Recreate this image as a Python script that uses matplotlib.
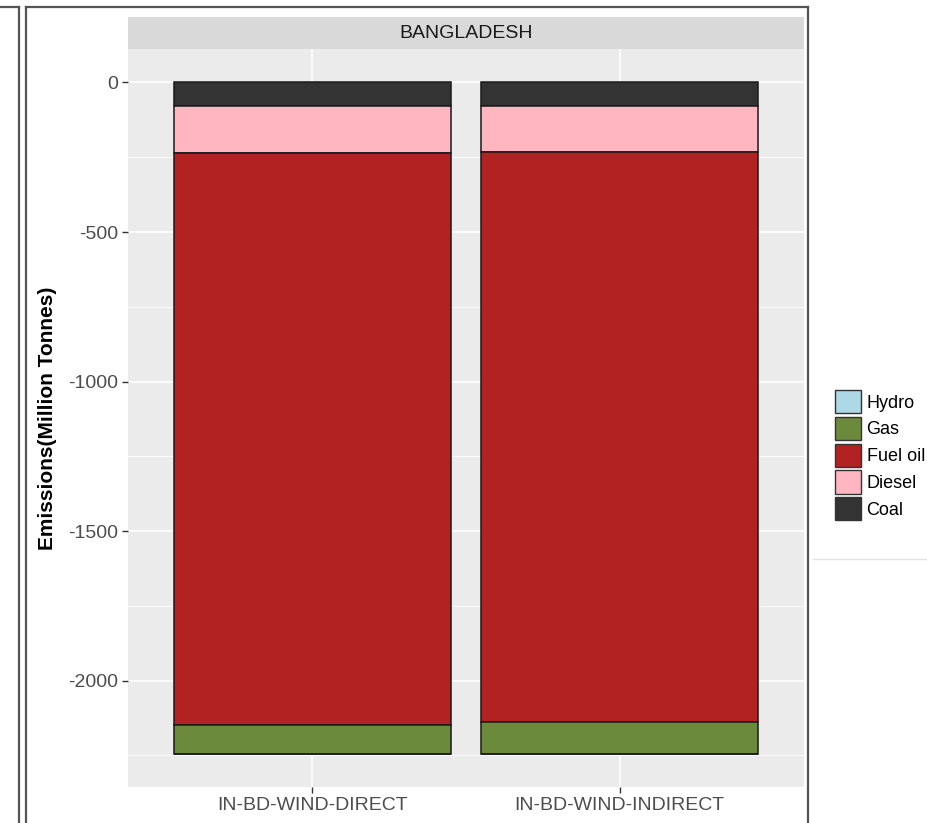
import matplotlib
matplotlib.use("Agg")
import matplotlib.pyplot as plt
from matplotlib.patches import Patch, Rectangle
from matplotlib.lines import Line2D
from matplotlib.ticker import MultipleLocator

plt.rcParams['font.family'] = ['Liberation Sans', 'DejaVu Sans']
plt.rcParams['axes.unicode_minus'] = False

# emissions by fuel for each scenario (million tonnes, negative = avoided)
scenarios = ['IN-BD-WIND-DIRECT', 'IN-BD-WIND-INDIRECT']
coal = [-77, -77]
diesel = [-160, -157]
fuel_oil = [-1913, -1906]
gas = [-94, -104]
hydro = [0, 0]

fuels = ['Coal', 'Diesel', 'Fuel oil', 'Gas', 'Hydro']
values = [coal, diesel, fuel_oil, gas, hydro]
colors = {'Hydro': '#ADD8E6', 'Gas': '#6B8A3B', 'Fuel oil': '#B22222',
          'Diesel': '#FFB6C1', 'Coal': '#333333'}

W, H = 928, 823
fig = plt.figure(figsize=(W / 100, H / 100), dpi=100)

def fx(px):
    return px / W

def fy(py):
    return 1 - py / H

ax = fig.add_axes([fx(128), fy(787), fx(804) - fx(128), fy(49) - fy(787)])
ax.set_facecolor('#EBEBEB')
for s in ax.spines.values():
    s.set_visible(False)

x = list(range(1, len(scenarios) + 1))
bottom = [0] * len(scenarios)
for name, vals in zip(fuels, values):
    ax.bar(x, vals, width=0.9, bottom=bottom, color=colors[name],
           edgecolor='#1A1A1A', linewidth=1.1, zorder=3)
    bottom = [b + v for b, v in zip(bottom, vals)]

ax.set_xlim(0.4, 2.6)
ax.set_ylim(-2356, 112)
ax.set_xticks(x)
ax.set_xticklabels(scenarios)
ax.yaxis.set_major_locator(MultipleLocator(500))
ax.yaxis.set_minor_locator(MultipleLocator(250))
ax.grid(which='major', color='white', linewidth=1.2, zorder=0)
ax.grid(which='minor', axis='y', color='white', linewidth=0.6, zorder=0)
ax.set_axisbelow(True)
ax.tick_params(axis='both', which='major', colors='#333333', length=4,
               width=1, labelsize=14, labelcolor='#4D4D4D', pad=3)
ax.tick_params(axis='y', which='minor', length=0)
ax.set_ylabel('Emissions(Million Tonnes)', fontsize=15, fontweight='bold',
              color='black', labelpad=8)

# facet strip
strip = Rectangle((fx(128), fy(49)), fx(804) - fx(128), fy(17) - fy(49),
                  transform=fig.transFigure, facecolor='#D9D9D9',
                  edgecolor='none')
fig.add_artist(strip)
fig.text(fx(466), fy(33), 'BANGLADESH', ha='center', va='center',
         fontsize=14, color='#1A1A1A')

# legend
handles = [Patch(facecolor=colors[f], edgecolor='#333333', linewidth=1)
           for f in ['Hydro', 'Gas', 'Fuel oil', 'Diesel', 'Coal']]
fig.legend(handles, ['Hydro', 'Gas', 'Fuel oil', 'Diesel', 'Coal'],
           loc='upper left', bbox_to_anchor=(fx(835), fy(390)),
           frameon=False, fontsize=13, borderpad=0, borderaxespad=0,
           handlelength=1.45, handleheight=1.6, labelspacing=0.2,
           handletextpad=0.3)

# panel frames
frame = dict(transform=fig.transFigure, color='#555555', linewidth=1.6)
fig.add_artist(Line2D([fx(26), fx(26)], [fy(6.5), 0], **frame))
fig.add_artist(Line2D([fx(26), fx(808.5)], [fy(6.5), fy(6.5)], **frame))
fig.add_artist(Line2D([fx(808.5), fx(808.5)], [fy(6.5), 0], **frame))
fig.add_artist(Line2D([fx(19.5), fx(19.5)], [fy(6.5), 0], **frame))
fig.add_artist(Line2D([0, fx(19.5)], [fy(6.5), fy(6.5)], **frame))
fig.add_artist(Line2D([fx(813), 1], [fy(559), fy(559)],
                      transform=fig.transFigure, color='#E3E3E3', linewidth=1))

fig.savefig('out.png', dpi=100)
